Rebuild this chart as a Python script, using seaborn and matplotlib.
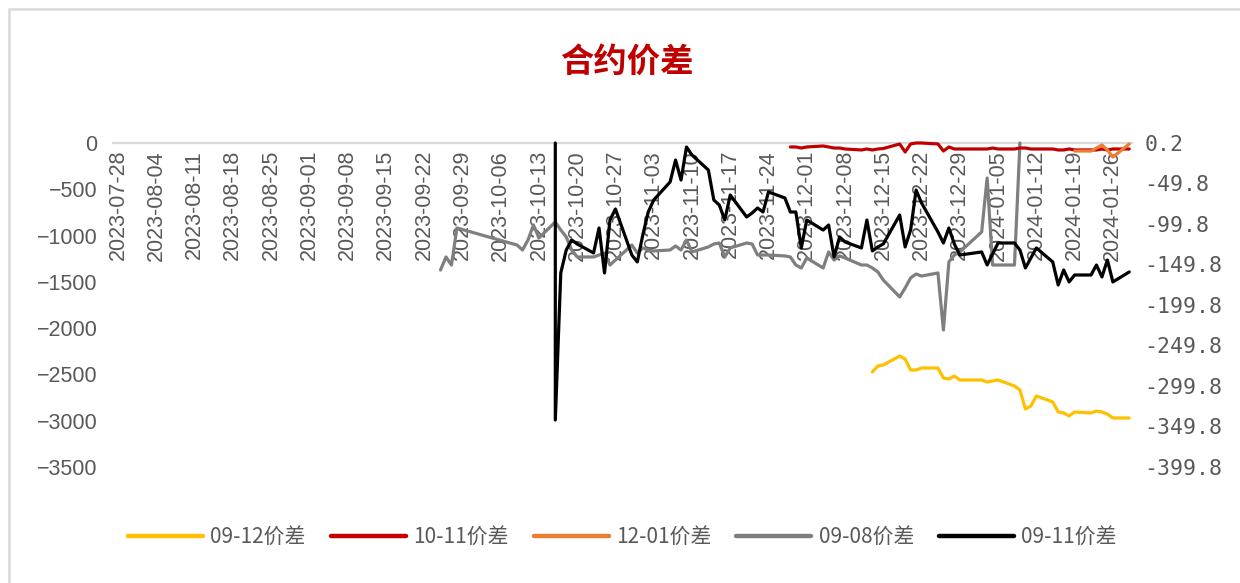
import numpy as np
import pandas as pd
import matplotlib
matplotlib.use("Agg")
import matplotlib.pyplot as plt
from matplotlib.lines import Line2D
from matplotlib.patches import Rectangle
import seaborn as sns

# ---- trading calendar (exchange closed on weekends and holidays) ----
holidays = pd.to_datetime(["2023-09-29", "2023-10-02", "2023-10-03", "2023-10-04",
                           "2023-10-05", "2023-10-06", "2024-01-01"])
trade_days = pd.bdate_range("2023-09-25", "2024-01-29").difference(holidays)

# ---- series (left axis) ----
spread_09_08_start = "2023-09-25"
spread_09_08 = [
    -1372, -1231, -1318, -918,
    -1102, -1156, -1048, -886, -1026,
    -853, -940, -1015, -1156, -1231,
    -1231, -1210, -1188, -1318, -1264,
    -1102, -1188, -1134, -1156, -1166,
    -1156, -1112, -1156, -1048, -1177,
    -1123, -1091, -1080, -1231, -1134,
    -1080, -1091, -1210, -1210, -1210,
    -1220, -1231, -1318, -1350, -1242,
    -1350, -1177, -1264, -1220, -1242,
    -1318, -1318, -1350, -1393, -1480,
    -1663, -1566, -1458, -1415, -1437,
    -1404, -2020, -1285, -1210, -1177,
    -961, -378, -1318, -1318,
    -1318, 0,
]

spread_09_11_start = "2023-10-16"
spread_09_11 = [
    0, -2992,
    -1404, -1156, -1048, -1091,
    -1188, -918, -1404, -832, -713,
    -1210, -1285, -994, -745, -616,
    -421, -184, -400, -43, -130,
    -292, -616, -670, -832, -562,
    -799, -756, -702, -745, -529,
    -594, -745, -745, -1134, -832,
    -940, -886, -1231, -1015, -1069,
    -1134, -832, -1166, -1123, -1091,
    -778, -1123, -940, -508, -648,
    -961, -1080, -918, -1091, -1210,
    -1177, -1318, -1199, -1080,
    -1080, -1156, -1350, -1242, -1134,
    -1285, -1534, -1372, -1501, -1426,
    -1426, -1318, -1447, -1264, -1501,
    -1393,
]

# ---- series (right axis) ----
spread_09_12_start = "2023-12-13"
spread_09_12 = [
    -282.5, -275.1, -273.9,
    -262.8, -266.5, -280.1, -280.1, -277.6,
    -277.6, -290.0, -291.2, -287.5, -292.4,
    -292.4, -294.9, -293.6, -292.4,
    -299.8, -304.7, -328.2, -324.5, -312.1,
    -319.5, -331.9, -333.1, -336.8, -331.9,
    -333.1, -330.7, -331.9, -334.4, -339.3,
    -339.3,
]

spread_10_11_start = "2023-11-28"
spread_10_11 = [
    -4.7, -4.7, -6.0, -4.7,
    -3.5, -4.7, -6.0, -6.0, -7.2,
    -8.4, -7.2, -8.4, -7.2, -6.6,
    -1.0, -10.9, -1.0, 0.2, 0.2,
    -1.0, -9.7, -4.7, -7.2, -7.2,
    -7.2, -7.2, -6.0, -7.2,
    -7.2, -6.0, -6.0, -7.2, -7.2,
    -7.2, -8.4, -8.4, -7.2, -8.4,
    -8.4, -8.4, -7.2, -8.4, -7.2,
    -7.2,
]

spread_12_01_start = "2024-01-19"
spread_12_01 = [-9.7, -9.7, -6.0, -2.3, -8.4, -17.1, -1.0]

labels = ["09-12价差", "10-11价差", "12-01价差", "09-08价差", "09-11价差"]
colors = ["#FFC000", "#C00000", "#ED7D31", "#7F7F7F", "#000000"]

week_ticks = pd.date_range("2023-07-28", "2024-01-26", freq="7D")
left_ticks = np.arange(0, -3501, -500)
right_ticks = np.arange(0.2, -400, -50)


def series_dates(start, n, repeat_first=False):
    d = trade_days[trade_days >= pd.Timestamp(start)]
    if repeat_first:
        d = d[:1].append(d)
    return d[:n]


sns.set_style("white")
plt.rcParams["font.family"] = ["Liberation Sans", "Noto Sans CJK SC", "DejaVu Sans"]
plt.rcParams["axes.unicode_minus"] = True

W, H = 1240, 583
fig = plt.figure(figsize=(W / 100, H / 100), dpi=100)
ax = fig.add_axes([113 / W, 1 - 467 / H, (1132 - 113) / W, (467 - 143) / H])
ax2 = ax.twinx()

lw = 2.3
tick_color = "#595959"

# left-axis series
df_gray = pd.DataFrame({"date": series_dates(spread_09_08_start, len(spread_09_08)),
                        "value": spread_09_08})
df_black = pd.DataFrame({"date": series_dates(spread_09_11_start, len(spread_09_11), True),
                         "value": spread_09_11})
sns.lineplot(data=df_gray, x="date", y="value", ax=ax, color=colors[3], lw=lw,
             estimator=None, sort=False, clip_on=False)
sns.lineplot(data=df_black, x="date", y="value", ax=ax, color=colors[4], lw=lw,
             estimator=None, sort=False, clip_on=False)

# right-axis series
for start, vals, c in [(spread_09_12_start, spread_09_12, colors[0]),
                       (spread_10_11_start, spread_10_11, colors[1]),
                       (spread_12_01_start, spread_12_01, colors[2])]:
    d = pd.DataFrame({"date": series_dates(start, len(vals)), "value": vals})
    sns.lineplot(data=d, x="date", y="value", ax=ax2, color=c, lw=lw,
                 estimator=None, sort=False, clip_on=False)

# axes ranges
xmin = pd.Timestamp("2023-07-27 02:00")
xmax = pd.Timestamp("2024-01-29 12:00")
ax.set_xlim(xmin, xmax)
ax.set_ylim(-3500, 0)
ax2.set_ylim(-399.8, 0.2)

# x axis runs along the zero line at the top, labels hang below it
for s in ["top", "left", "right"]:
    ax.spines[s].set_visible(False)
for s in ax2.spines.values():
    s.set_visible(False)
ax.spines["bottom"].set_position(("data", 0))
ax.spines["bottom"].set_color("#D9D9D9")
ax.spines["bottom"].set_linewidth(1.6)
ax.spines["bottom"].set_zorder(0)

ax.set_xticks(week_ticks)
ax.set_xticklabels([d.strftime("%Y-%m-%d") for d in week_ticks], rotation=90,
                   fontsize=15.5, color=tick_color, va="top", ha="center")
ax.tick_params(axis="x", length=0, pad=5)

ax.set_yticks(left_ticks)
ax.set_yticklabels([f"{v:d}".replace("-", "\u2212") for v in left_ticks],
                   fontsize=15.5, color=tick_color)
ax.tick_params(axis="y", length=0, pad=11)

ax2.set_yticks(right_ticks)
ax2.set_yticklabels([f"{v:.1f}" for v in right_ticks], fontsize=15.5,
                    color=tick_color, family="DejaVu Sans Mono")
ax2.tick_params(axis="y", length=0, pad=9)

ax.set_xlabel("")
ax.set_ylabel("")
ax2.set_ylabel("")
ax.grid(False)
ax2.grid(False)
ax.patch.set_visible(False)

# title
fig.text(0.5056, 1 - 62 / H, "合约价差", ha="center", va="center",
         fontsize=24, fontweight="bold", color="#C00000",
         family=["Noto Sans CJK SC", "DejaVu Sans"])

# legend
handles = [Line2D([0], [0], color=c, lw=3.2) for c in colors]
fig.legend(handles, labels, loc="center", bbox_to_anchor=(0.502, 1 - 537 / H),
           ncol=5, frameon=False, handlelength=3.6, handletextpad=0.35,
           columnspacing=1.2,
           prop={"family": ["Noto Sans CJK SC", "DejaVu Sans"], "size": 15},
           labelcolor=tick_color)

# outer frame
fig.patches.append(Rectangle((8.5 / W, -0.05), 1.2, 1 - 8.5 / H + 0.05,
                             transform=fig.transFigure, fill=False,
                             edgecolor="#D9D9D9", lw=1.8))

fig.savefig("out.png", dpi=100)
